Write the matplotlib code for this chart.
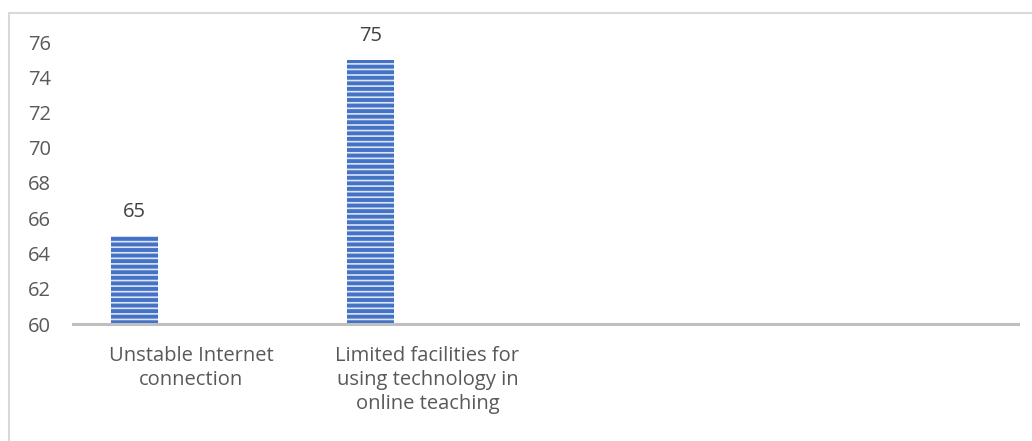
import matplotlib.pyplot as plt
from matplotlib.lines import Line2D

# data
categories = ["Unstable Internet\nconnection",
              "Limited facilities for\nusing technology in\nonline teaching",
              "", ""]
values = [65, 75]
yticks = [60, 62, 64, 66, 68, 70, 72, 74, 76]

plt.rcParams['font.family'] = ['Open Sans', 'DejaVu Sans']
plt.rcParams['hatch.linewidth'] = 1.2

FS = 14.5
fig = plt.figure(figsize=(10.32, 4.41), dpi=100)
ax = fig.add_axes([73 / 1032, 1 - 324 / 441, (1018 - 73) / 1032, (324 - 42) / 441])

# bars sit left of the category centre (empty second series in the original)
xs = [i - 0.24 for i in range(len(values))]
bars = ax.bar(xs, values, width=0.2, bottom=0, color='#4472C4',
              edgecolor='#DCE5F6', linewidth=0, hatch='---')
for x, v in zip(xs, values):
    ax.annotate(str(v), (x, v), xytext=(0, 10), textcoords='offset points',
                ha='center', va='bottom', fontsize=FS, color='#404040')

ax.set_ylim(60, 76)
ax.set_xlim(-0.5, len(categories) - 0.5)
ax.set_yticks(yticks)
ax.set_xticks(range(len(categories)))
ax.set_xticklabels(categories, linespacing=1.25)
ax.tick_params(axis='y', length=0, pad=16, labelsize=FS, labelcolor='#595959')
ax.tick_params(axis='x', length=0, pad=16, labelsize=FS, labelcolor='#595959')

for s in ['top', 'right', 'left']:
    ax.spines[s].set_visible(False)
ax.spines['bottom'].set_color('#BFBFBF')
ax.spines['bottom'].set_linewidth(2.2)

# outer chart frame (only left and top edges visible)
fig.add_artist(Line2D([8.5 / 1032, 8.5 / 1032], [0, 1 - 12.5 / 441],
                      transform=fig.transFigure, color='#D9D9D9', lw=1.5))
fig.add_artist(Line2D([8.5 / 1032, 1], [1 - 12.5 / 441, 1 - 12.5 / 441],
                      transform=fig.transFigure, color='#D9D9D9', lw=1.5))

fig.savefig('out.png', dpi=100)
